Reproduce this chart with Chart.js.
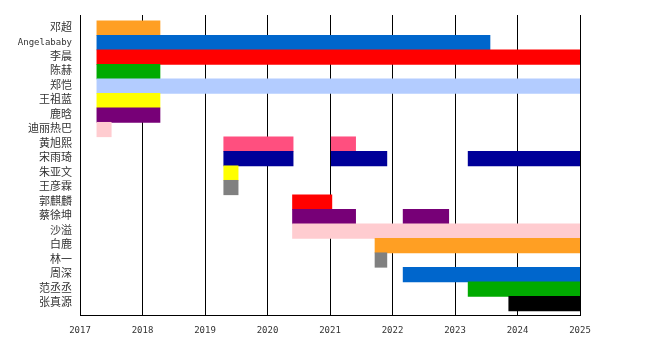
<!DOCTYPE html>
<html>
<head>
<meta charset="utf-8">
<script src="https://cdn.jsdelivr.net/npm/chart.js@4/dist/chart.umd.min.js"></script>
<style>
  body { margin: 0; background: #fff; }
  #wrap { width: 650px; height: 350px; }
</style>
</head>
<body>
<div id="wrap"><canvas id="timeline"></canvas></div>
<script>
const names = ['邓超', 'Angelababy', '李晨', '陈赫', '郑恺', '王祖蓝', '鹿晗', '迪丽热巴', '黄旭熙', '宋雨琦',
  '朱亚文', '王彦霖', '郭麒麟', '蔡徐坤', '沙溢', '白鹿', '林一', '周深', '范丞丞', '张真源'];

// first stint of each member (start, end in years)
const firstStint = [
  [2017.27, 2018.28], [2017.27, 2023.56], [2017.27, 2025], [2017.27, 2018.28], [2017.27, 2025],
  [2017.27, 2018.28], [2017.27, 2018.28], [2017.27, 2017.50], [2019.30, 2020.41], [2019.30, 2020.41],
  [2019.30, 2019.53], [2019.30, 2019.53], [2020.40, 2021.03], [2020.40, 2021.41], [2020.40, 2025],
  [2021.72, 2025], [2021.72, 2021.91], [2022.17, 2025], [2023.21, 2025], [2023.86, 2025]
];
// second and third stints, null where there is none
const secondStint = [null, null, null, null, null, null, null, null, [2021.02, 2021.41], [2021.02, 2021.91],
  null, null, null, [2022.17, 2022.90], null, null, null, null, null, null];
const thirdStint = [null, null, null, null, null, null, null, null, null, [2023.21, 2025],
  null, null, null, null, null, null, null, null, null, null];

const years = [2017, 2018, 2019, 2020, 2021, 2022, 2023, 2024, 2025];

const memberColors = ['#ff9f23', '#0066cc', '#ff0000', '#00aa00', '#b3ccff', '#ffff00', '#770077', '#ffccd0',
  '#ff4f7f', '#000099', '#ffff00', '#808080', '#ff0000', '#770077', '#ffccd0', '#ff9f23', '#808080',
  '#0066cc', '#00aa00', '#000000'];

function toPoints(stint) {
  const pts = [];
  stint.forEach((span, i) => {
    if (span) pts.push({ x: span, y: i });
  });
  return pts;
}

const fontFamily = '"DejaVu Sans Mono", "Noto Sans CJK SC", monospace';

const datasets = [firstStint, secondStint, thirdStint].map(stint => ({
  data: toPoints(stint),
  backgroundColor: ctx => memberColors[ctx.raw.y],
  borderWidth: 0,
  barPercentage: 1,
  categoryPercentage: 1,
  grouped: false
}));

new Chart(document.getElementById('timeline'), {
  type: 'bar',
  data: { datasets },
  options: {
    indexAxis: 'y',
    responsive: true,
    maintainAspectRatio: false,
    animation: false,
    layout: { padding: { top: 15, right: 70, left: 0, bottom: 0 } },
    plugins: { legend: { display: false }, tooltip: { enabled: false } },
    scales: {
      x: {
        type: 'linear',
        min: years[0],
        max: years[years.length - 1],
        offset: false,
        afterBuildTicks: scale => { scale.ticks = years.map(v => ({ value: v })); },
        afterFit: scale => { scale.height = 35; },
        ticks: {
          callback: v => String(v),
          color: '#333',
          padding: 10,
          maxRotation: 0,
          font: { family: fontFamily, size: 9 }
        },
        grid: { color: '#000', lineWidth: 1, drawTicks: false },
        border: { color: '#000', width: 1 }
      },
      y: {
        type: 'linear',
        reverse: true,
        offset: false,
        min: -0.9,
        max: 19.79,
        afterBuildTicks: scale => { scale.ticks = names.map((n, i) => ({ value: i })); },
        afterFit: scale => { scale.width = 80; },
        ticks: {
          callback: v => names[v] || '',
          color: '#333',
          padding: 8,
          autoSkip: false,
          font: ctx => ({
            family: fontFamily,
            size: /^[A-Za-z]+$/.test(names[ctx.tick ? ctx.tick.value : 0] || '') ? 9 : 11
          })
        },
        grid: { display: false, drawTicks: false },
        border: { display: false }
      }
    }
  }
});
</script>
</body>
</html>
